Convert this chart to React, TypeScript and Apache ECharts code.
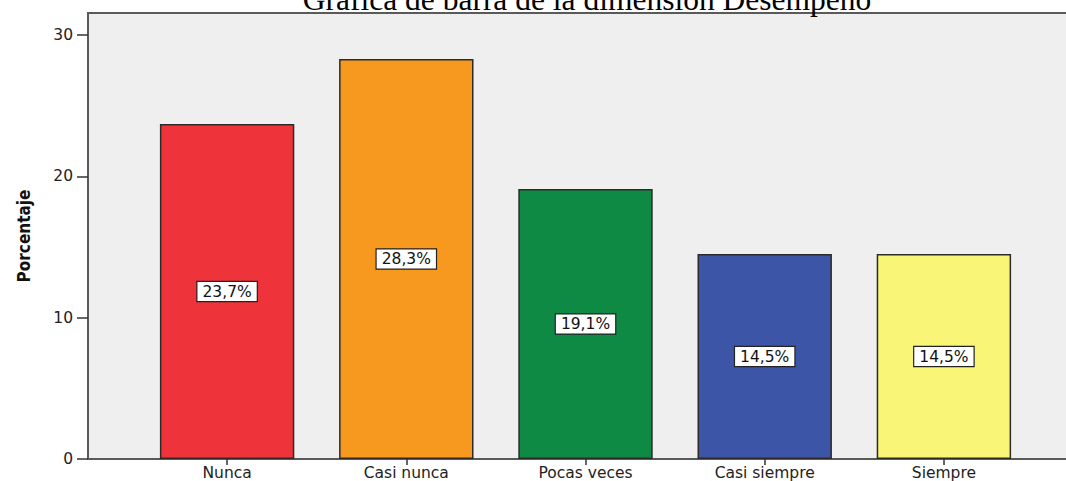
import React, { useEffect, useRef } from "react";
import * as echarts from "echarts";

const categories = ["Nunca", "Casi nunca", "Pocas veces", "Casi siempre", "Siempre"];
const percentages = [23.7, 28.3, 19.1, 14.5, 14.5];
const barColors = ["#EE343A", "#F7991F", "#0F8A44", "#3C55A6", "#F8F577"];
const yTicks = [0, 10, 20, 30];
const titleText = "Gráfica de barra de la dimensión Desempeño";
const yTitle = "Porcentaje";

export default function App() {
  const ref = useRef<HTMLDivElement>(null);
  useEffect(() => {
    if (!ref.current) return;
    const chart = echarts.init(ref.current, null, { renderer: "svg" });
    const plotLeft = 88;
    const plotTop = 13;
    const plotBottom = 459;
    chart.setOption({
      animation: false,
      backgroundColor: "#ffffff",
      grid: { left: 137.5, right: 32.5, top: plotTop, bottom: 481 - plotBottom },
      graphic: [
        {
          type: "rect",
          z: -10,
          shape: { x: plotLeft, y: plotTop, width: 1100, height: plotBottom - plotTop },
          style: { fill: "#EFEFEF", stroke: "#5a5a5a", lineWidth: 2 },
        },
        {
          type: "text",
          x: 587,
          y: 15,
          style: {
            text: titleText,
            font: "31.5px 'Liberation Serif', 'Times New Roman', serif",
            fill: "#000",
            textAlign: "center",
            textVerticalAlign: "bottom",
          },
        },
      ],
      xAxis: {
        type: "category",
        data: categories,
        axisLine: { show: false },
        axisTick: { show: true, alignWithLabel: true, length: 6, lineStyle: { color: "#333", width: 1.5 } },
        axisLabel: {
          color: "#222",
          fontFamily: "'DejaVu Sans', sans-serif",
          fontSize: 15.5,
          margin: 6,
        },
      },
      yAxis: {
        type: "value",
        min: 0,
        max: 31.56,
        interval: 10,
        offset: 49.5,
        name: yTitle,
        nameLocation: "middle",
        nameGap: 56,
        nameRotate: 90,
        nameTextStyle: {
          fontFamily: "'Liberation Sans Narrow', 'DejaVu Sans Condensed', sans-serif",
          fontWeight: "bold",
          fontSize: 17,
          color: "#111",
        },
        axisLine: { show: false },
        axisTick: { show: true, length: 11, lineStyle: { color: "#333", width: 1.5 } },
        splitLine: { show: false },
        axisLabel: {
          color: "#222",
          fontFamily: "'DejaVu Sans', sans-serif",
          fontSize: 15.5,
          margin: 15,
          showMaxLabel: false,
          formatter: (v: number) => (yTicks.includes(v) ? String(v) : ""),
        },
      },
      series: [
        {
          type: "bar",
          barCategoryGap: "25%",
          data: percentages.map((v, i) => ({
            value: v,
            itemStyle: { color: barColors[i], borderColor: "#2e2a28", borderWidth: 1.5 },
          })),
          label: {
            show: true,
            position: "inside",
            formatter: (p: any) => p.value.toFixed(1).replace(".", ",") + "%",
            color: "#111",
            fontFamily: "'DejaVu Sans', sans-serif",
            fontSize: 15.5,
            backgroundColor: "#fff",
            borderColor: "#222",
            borderWidth: 1.2,
            padding: [2, 5, 1, 5],
          },
        },
      ],
    });
    return () => chart.dispose();
  }, []);
  return (
    <div
      ref={ref}
      style={{ position: "fixed", left: 0, top: 0, width: 1066, height: 481 }}
    />
  );
}
